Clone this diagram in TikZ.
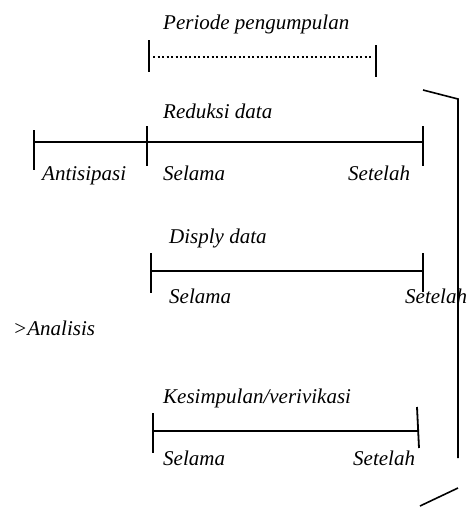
\documentclass[tikz,border=0pt]{standalone}
\usepackage{fontspec}
\setmainfont{Liberation Serif}
\begin{document}
\begin{tikzpicture}[x=1pt,y=-1pt,
  lbl/.style={anchor=base west, inner sep=0pt, font=\fontsize{21}{25}\selectfont\itshape},
  axis/.style={line width=1.6pt},
  tick/.style={line width=1.8pt},
  dotline/.style={line width=2pt, dash pattern=on 2pt off 2.5pt}]
\useasboundingbox (0,0) rectangle (467,507);

% Periode pengumpulan
\node[lbl] (tp) at (163,29) {Periode pengumpulan};
\coordinate (p1t) at (149,40); \coordinate (p1b) at (149,72);
\coordinate (p2t) at (376,45); \coordinate (p2b) at (376,77);
\coordinate (pl) at (153,57); \coordinate (pr) at (371,57);
\draw[tick] (p1t) -- (p1b);
\draw[tick] (p2t) -- (p2b);
\draw[dotline] (pl) -- (pr);

% Reduksi data
\node[lbl] (tr) at (163,118) {Reduksi data};
\coordinate (r0) at (34,142); \coordinate (r3) at (423,142);
\coordinate (r1t) at (34,130); \coordinate (r1b) at (34,170);
\coordinate (r2t) at (147,126); \coordinate (r2b) at (147,166);
\coordinate (r3t) at (423,126); \coordinate (r3b) at (423,166);
\draw[axis] (r0) -- (r3);
\draw[tick] (r1t) -- (r1b);
\draw[tick] (r2t) -- (r2b);
\draw[tick] (r3t) -- (r3b);
\node[lbl] (ra) at (42,180) {Antisipasi};
\node[lbl] (rs) at (163,180) {Selama};
\node[lbl] (rt) at (348,180) {Setelah};

% Disply data
\node[lbl] (td) at (169,243) {Disply data};
\coordinate (d0) at (151,271); \coordinate (d1) at (423,271);
\coordinate (d0t) at (151,253); \coordinate (d0b) at (151,293);
\coordinate (d1t) at (423,253); \coordinate (d1b) at (423,292);
\draw[axis] (d0) -- (d1);
\draw[tick] (d0t) -- (d0b);
\draw[tick] (d1t) -- (d1b);
\node[lbl] (ds) at (169,303) {Selama};
\node[lbl] (dt) at (405,303) {Setelah};

% Analisis
\node[lbl] (an) at (13,335) {>Analisis};

% Kesimpulan/verivikasi
\node[lbl] (tk) at (163,403) {Kesimpulan/verivikasi};
\coordinate (k0) at (153,431); \coordinate (k1) at (418,431);
\coordinate (k0t) at (153,413); \coordinate (k0b) at (153,453);
\coordinate (k1t) at (417,407); \coordinate (k1b) at (419,448);
\draw[axis] (k0) -- (k1);
\draw[tick] (k0t) -- (k0b);
\draw[tick] (k1t) -- (k1b);
\node[lbl] (ks) at (163,465) {Selama};
\node[lbl] (kt) at (353,465) {Setelah};

% right bracket
\coordinate (b1) at (423,90); \coordinate (b2) at (458,99);
\coordinate (b3) at (458,458);
\coordinate (b4) at (458,488); \coordinate (b5) at (420,506);
\draw[axis] (b1) -- (b2) -- (b3);
\draw[axis] (b4) -- (b5);
\end{tikzpicture}
\end{document}
